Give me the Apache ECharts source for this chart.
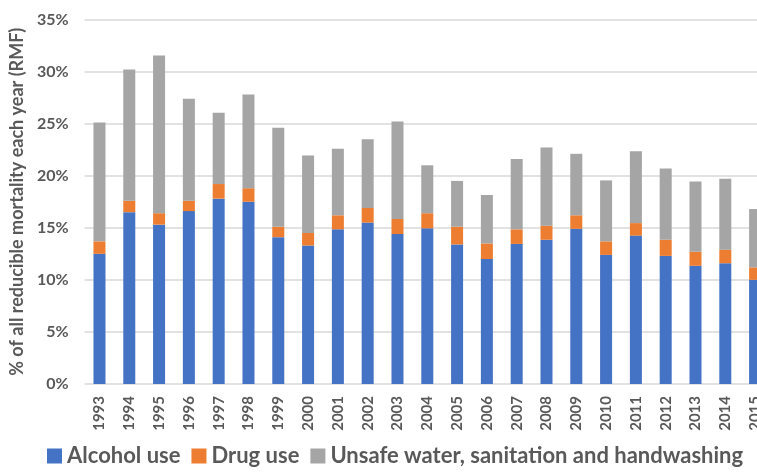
<!DOCTYPE html>
<html><head><meta charset="utf-8">
<script src="https://cdn.jsdelivr.net/npm/echarts@6/dist/echarts.min.js"></script>
<style>html,body{margin:0;padding:0;background:#fff;overflow:hidden;width:757px;height:472px}#c{width:770px;height:472px}</style>
</head><body><div id="c"></div>
<script>
const years = ['1993','1994','1995','1996','1997','1998','1999','2000','2001','2002','2003','2004','2005','2006','2007','2008','2009','2010','2011','2012','2013','2014','2015'];
const alcohol = [12.5,16.5,15.3,16.6,17.8,17.5,14.1,13.3,14.85,15.5,14.4,14.95,13.4,12.0,13.45,13.85,14.9,12.4,14.25,12.3,11.35,11.6,10.0];
const drug = [1.2,1.1,1.1,1.0,1.4,1.3,1.0,1.2,1.35,1.4,1.45,1.45,1.7,1.5,1.4,1.35,1.3,1.3,1.2,1.55,1.35,1.3,1.2];
const water = [11.4,12.6,15.15,9.8,6.85,9.0,9.5,7.45,6.4,6.6,9.35,4.6,4.4,4.65,6.75,7.5,5.9,5.85,6.9,6.85,6.75,6.8,5.6];
const yTicks = [0,5,10,15,20,25,30,35];

const font = 'Lato, "Open Sans", sans-serif';
const txt = '#595959';
const chart = echarts.init(document.getElementById('c'));
chart.setOption({
  animation: false,
  textStyle: {fontFamily: font},
  grid: {left: 82, right: 0, top: 19.5, bottom: 88, containLabel: false},
  legend: {
    bottom: 0, left: 42, itemWidth: 15, itemHeight: 15, itemGap: 11,
    icon: 'rect',
    textStyle: {fontSize: 22, fontWeight: 'bold', color: txt, fontFamily: font},
    data: ['Alcohol use','Drug use','Unsafe water, sanitation and handwashing']
  },
  xAxis: {
    type: 'category', data: years,
    axisLine: {show: false}, axisTick: {show: false},
    axisLabel: {rotate: 90, fontSize: 15, fontWeight: 'bold', color: txt, margin: 12, fontFamily: font, interval: 0}
  },
  yAxis: {
    type: 'value', min: yTicks[0], max: yTicks[yTicks.length-1], interval: 5,
    name: '% of all reducible mortality each year (RMF)', nameLocation: 'middle', nameGap: 53,
    nameTextStyle: {fontSize: 18, fontWeight: 'bold', color: txt, fontFamily: font},
    axisLine: {show: false}, axisTick: {show: false},
    axisLabel: {formatter: v => v + '%', fontSize: 16, fontWeight: 'bold', color: txt, margin: 16, fontFamily: font},
    splitLine: {lineStyle: {color: '#D9D9D9', width: 1.5}}
  },
  series: [
    {name: 'Alcohol use', type: 'bar', stack: 's', data: alcohol, barWidth: 12, itemStyle: {color: '#4472C4'}},
    {name: 'Drug use', type: 'bar', stack: 's', data: drug, itemStyle: {color: '#ED7D31'}},
    {name: 'Unsafe water, sanitation and handwashing', type: 'bar', stack: 's', data: water, itemStyle: {color: '#A5A5A5'}}
  ]
});
</script></body></html>
